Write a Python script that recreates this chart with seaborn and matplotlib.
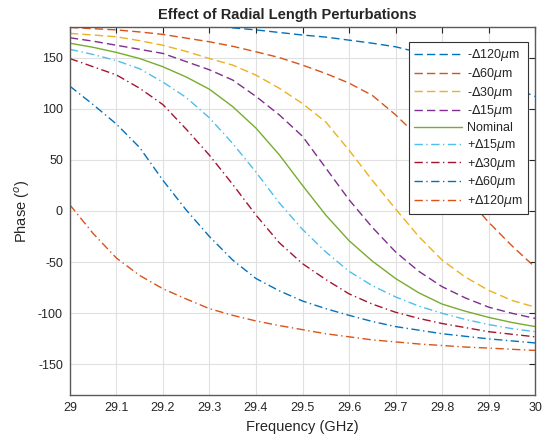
import numpy as np
import pandas as pd
import seaborn as sns
import matplotlib
matplotlib.use("Agg")
import matplotlib.pyplot as plt

# frequency samples (GHz)
freq = [29.00, 29.05, 29.10, 29.15, 29.20, 29.25, 29.30, 29.35, 29.40, 29.45, 29.50,
        29.55, 29.60, 29.65, 29.70, 29.75, 29.80, 29.85, 29.90, 29.95, 30.00]

# phase in degrees
m120 = [192, 190, 189, 187, 185, 183, 181, 179, 177, 174.5, 172,
        170, 167, 164, 160.5, 155, 148, 140, 131, 121, 112]
m60 = [179.4, 178.2, 177, 175, 172.6, 169, 165.4, 161, 155.6, 150, 142.6,
       134.4, 125, 113, 94, 72, 46, 15, -11, -34, -55]
m30 = [173.6, 172, 170.3, 166.5, 162, 156, 149, 142.6, 132.8, 120, 105,
       87, 59.4, 30, 2, -25, -48, -64.6, -77.6, -87.4, -94]
m15 = [169.3, 166, 162, 158, 154, 146, 138, 128, 112, 94, 73,
       42, 11, -16, -40, -59, -74, -85, -94, -100, -105]
nominal = [164, 160, 155, 149, 141, 131, 119, 102, 81, 55, 25,
           -4, -29, -49, -66, -80, -91, -98, -104, -109, -113]
p15 = [158, 153, 147, 139, 126, 111, 91, 66, 38, 8, -18,
       -40, -59, -73, -84, -93, -100, -106, -111, -115, -118]
p30 = [149, 141, 133, 120, 104, 80, 54.5, 26, -4, -31, -51.5,
       -67, -81, -91, -99, -105, -110, -114, -118, -120.5, -123]
p60 = [122, 104, 85, 62, 30, 1, -25, -48, -66, -78, -88,
       -95.5, -102, -108, -113, -116.5, -120, -122.5, -125, -127, -129]
p120 = [6, -22, -46, -63, -76, -86, -95.5, -102, -107.5, -112, -116,
        -120, -123, -126, -128, -130, -131.5, -133, -134, -135.2, -136.3]

labels = [r'-$\Delta$120$\mu$m', r'-$\Delta$60$\mu$m', r'-$\Delta$30$\mu$m', r'-$\Delta$15$\mu$m',
          'Nominal', r'+$\Delta$15$\mu$m', r'+$\Delta$30$\mu$m', r'+$\Delta$60$\mu$m', r'+$\Delta$120$\mu$m']
series = [m120, m60, m30, m15, nominal, p15, p30, p60, p120]
colors = ['#0072BD', '#D95319', '#EDB120', '#7E2F8E', '#77AC30',
          '#4DBEEE', '#A2142F', '#0072BD', '#D95319']
dashes = [(6, 3)] * 4 + [None] + [(6, 2.5, 1, 2.5)] * 4

sns.set_style("whitegrid", {"grid.color": "#e0e0e0", "axes.edgecolor": "#5a5a5a"})
plt.rcParams['font.family'] = ['Liberation Sans', 'DejaVu Sans']
plt.rcParams['mathtext.fontset'] = 'dejavusans'
plt.rcParams['axes.unicode_minus'] = False

fig, ax = plt.subplots(figsize=(5.5, 4.4), dpi=100)
fig.subplots_adjust(left=0.127, right=0.973, top=0.939, bottom=0.102)

for vals, lab, col, ds in zip(series, labels, colors, dashes):
    df = pd.DataFrame({'freq': freq, 'phase': vals})
    sns.lineplot(data=df, x='freq', y='phase', ax=ax, color=col, label=lab, linewidth=1.0)
    l = ax.get_lines()[-1]
    if ds is not None:
        l.set_dashes(ds)

ax.set_xlim(29, 30)
ax.set_ylim(-180, 180)
ax.set_xticks([29, 29.1, 29.2, 29.3, 29.4, 29.5, 29.6, 29.7, 29.8, 29.9, 30])
ax.set_xticklabels(['29', '29.1', '29.2', '29.3', '29.4', '29.5', '29.6', '29.7', '29.8', '29.9', '30'])
ax.set_yticks([-150, -100, -50, 0, 50, 100, 150])
ax.tick_params(direction='in', top=True, right=True, length=4, width=0.8,
               labelsize=9, colors='#262626', pad=5)
for s in ax.spines.values():
    s.set_linewidth(1.0)
    s.set_color('#5a5a5a')
ax.grid(True, linewidth=0.8)

ax.set_title('Effect of Radial Length Perturbations', fontsize=10.5, fontweight='bold',
             pad=6, x=0.468)
ax.set_xlabel('Frequency (GHz)', fontsize=10.5, color='#262626')
ax.set_ylabel(r'Phase ($^o$)', fontsize=10.5, color='#262626')

leg = ax.legend(loc='upper right', bbox_to_anchor=(0.99, 0.965), fancybox=False,
                edgecolor='#333333', framealpha=1, fontsize=9, handlelength=3.8,
                labelspacing=0.22, borderpad=0.4, handletextpad=0.4, borderaxespad=0.2)
leg.get_frame().set_linewidth(0.8)

plt.savefig('out.png', dpi=100)
